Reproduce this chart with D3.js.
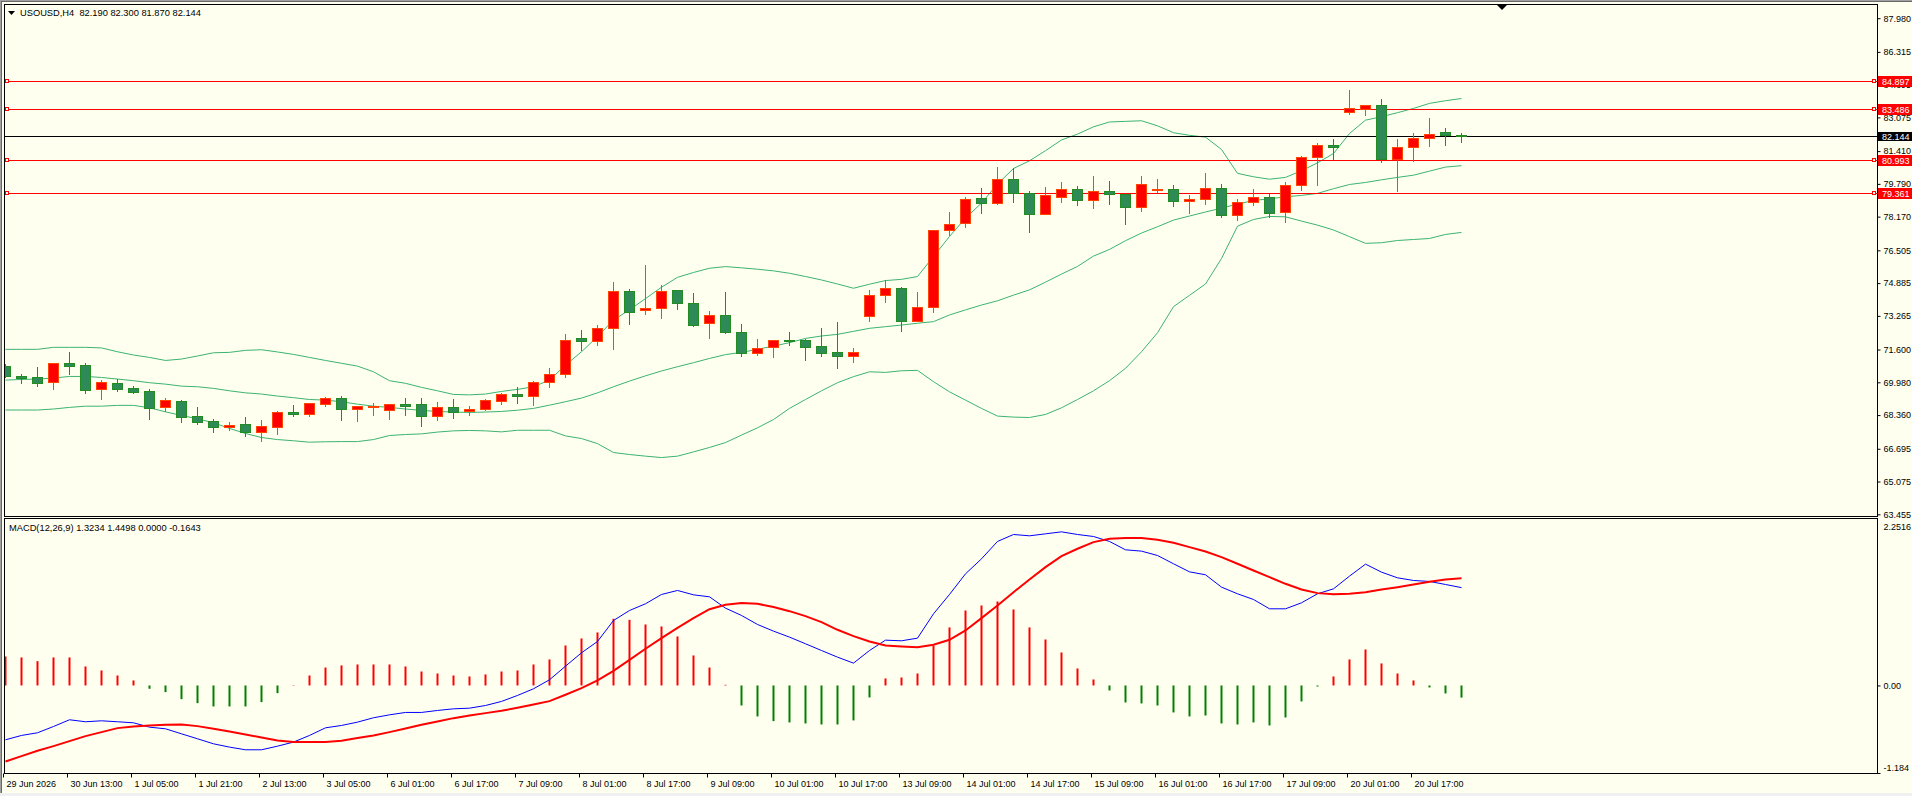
<!DOCTYPE html>
<html>
<head>
<meta charset="utf-8">
<script src="https://cdn.jsdelivr.net/npm/d3@7"></script>
<style>
  html, body { margin: 0; padding: 0; background: #f0f0f0; }
  svg { display: block; }
  text { font-family: "Liberation Sans", Arial, sans-serif; }
</style>
</head>
<body>
<div id="chart"></div>
<script>

// ---- data (USOUSD H4) ----
var opens = [70.78,70.29,70.22,69.98,70.93,70.83,69.63,69.94,69.69,69.55,
  68.77,69.05,68.31,68.06,67.78,67.91,67.53,67.78,68.51,68.42,
  68.92,69.20,68.67,68.77,68.59,68.90,68.90,68.32,68.75,68.54,
  68.66,69.08,69.38,69.28,69.98,70.37,72.15,72.00,72.65,74.48,
  73.54,73.64,74.53,73.89,72.90,73.29,72.45,71.41,71.71,72.05,
  72.07,71.77,71.46,71.26,73.28,74.28,74.63,73.03,73.69,77.50,
  77.85,79.09,78.86,80.03,79.35,78.28,79.12,79.52,78.97,79.42,
  79.27,78.63,79.47,79.52,78.92,79.02,79.57,78.23,78.87,79.12,
  78.41,79.71,81.10,81.69,83.32,83.47,83.67,81.02,81.59,82.04,
  82.33,82.19];
var highs = [70.88,70.39,70.73,70.93,71.48,70.93,70.09,70.12,69.79,69.65,
  69.20,69.10,68.75,68.16,68.01,68.26,68.11,68.56,68.85,68.94,
  69.27,69.30,68.80,68.97,68.89,69.20,69.20,69.00,69.15,68.80,
  69.15,69.46,69.73,70.04,70.68,72.37,72.57,72.80,74.94,74.58,
  75.79,74.81,74.53,74.40,73.51,74.45,72.86,72.12,72.05,72.47,
  72.14,72.67,72.96,71.67,74.55,75.03,74.68,74.45,77.50,78.39,
  79.15,79.58,80.64,80.55,79.43,79.63,79.88,79.66,80.17,79.93,
  79.32,80.17,80.03,79.71,79.23,80.32,79.78,79.02,79.53,79.27,
  79.88,81.16,81.79,82.00,84.41,83.67,84.01,81.99,82.29,83.03,
  82.53,82.30];
var lows = [70.22,69.96,69.81,69.65,70.40,69.46,69.17,69.56,69.46,68.18,
  68.57,68.03,67.93,67.53,67.63,67.35,67.10,67.43,68.33,68.33,
  68.80,68.13,68.08,68.37,68.18,68.37,67.83,68.13,68.23,68.37,
  68.61,68.89,68.97,68.87,69.76,70.26,71.58,71.84,71.64,72.88,
  73.37,73.18,73.62,72.78,72.19,72.40,71.30,71.33,71.25,71.84,
  71.10,71.30,70.70,70.99,73.03,73.97,72.53,73.03,73.47,77.24,
  77.67,78.36,78.79,78.91,77.42,78.28,78.91,78.76,78.61,78.81,
  77.82,78.46,79.40,78.71,78.36,78.81,78.13,78.02,78.77,78.13,
  77.92,79.50,79.75,81.02,83.22,83.17,80.85,79.43,80.93,81.66,
  81.72,81.87];
var closes = [70.29,70.21,69.96,70.93,70.80,69.61,69.99,69.66,69.51,68.69,
  69.10,68.28,68.03,67.78,67.89,67.53,67.81,68.51,68.42,68.94,
  69.20,68.67,68.80,68.82,68.89,68.80,68.32,68.74,68.51,68.66,
  69.10,69.38,69.28,69.98,70.39,72.05,72.00,72.65,74.48,73.47,
  73.64,74.48,73.89,72.83,73.29,72.45,71.41,71.68,72.05,72.00,
  71.74,71.44,71.26,71.46,74.28,74.63,73.03,73.69,77.50,77.80,
  79.05,78.86,80.03,79.32,78.28,79.24,79.52,78.97,79.42,79.27,
  78.63,79.76,79.53,78.92,79.02,79.57,78.23,78.87,79.12,78.36,
  79.71,81.10,81.69,81.63,83.52,83.67,81.02,81.59,82.04,82.28,
  82.19,82.144];

// Bollinger bands (20,2)
var bbUpper = [71.61,71.61,71.61,71.71,71.71,71.71,71.68,71.49,71.33,71.21,
  71.06,71.13,71.28,71.44,71.46,71.56,71.59,71.48,71.36,71.21,
  71.06,70.92,70.78,70.50,70.06,69.93,69.73,69.56,69.38,69.36,
  69.40,69.53,69.63,69.76,70.09,70.83,71.49,72.24,73.06,73.56,
  74.12,74.68,75.17,75.41,75.62,75.70,75.64,75.57,75.49,75.37,
  75.21,75.04,74.84,74.63,74.83,75.01,75.07,75.21,76.20,77.19,
  78.10,78.84,79.78,80.55,80.93,81.43,81.96,82.25,82.61,82.85,
  82.88,82.91,82.66,82.32,82.19,82.10,81.49,80.31,80.14,80.02,
  80.11,80.44,80.83,81.29,82.28,82.94,83.11,83.31,83.52,83.77,
  83.90,84.01];
var bbMiddle = [70.09,70.12,70.14,70.19,70.27,70.27,70.22,70.14,70.06,69.96,
  69.89,69.79,69.76,69.68,69.56,69.46,69.40,69.30,69.22,69.13,
  69.10,69.02,68.90,68.80,68.74,68.66,68.59,68.54,68.51,68.49,
  68.51,68.54,68.60,68.69,68.85,69.02,69.20,69.46,69.76,70.04,
  70.30,70.54,70.75,70.95,71.16,71.35,71.46,71.61,71.77,71.94,
  72.15,72.27,72.35,72.50,72.65,72.73,72.81,72.90,72.98,73.31,
  73.56,73.80,74.01,74.29,74.55,74.93,75.33,75.71,76.22,76.55,
  76.98,77.36,77.67,78.00,78.20,78.40,78.59,78.79,78.97,79.05,
  79.15,79.22,79.32,79.55,79.76,79.86,79.99,80.11,80.22,80.42,
  80.62,80.69];
var bbLower = [68.61,68.61,68.61,68.66,68.74,68.80,68.80,68.84,68.84,68.72,
  68.52,68.34,68.18,67.98,67.70,67.45,67.25,67.15,67.09,67.02,
  67.04,67.05,67.05,67.15,67.35,67.40,67.43,67.52,67.58,67.60,
  67.58,67.53,67.61,67.61,67.61,67.33,67.20,66.95,66.51,66.41,
  66.33,66.26,66.33,66.54,66.76,67.00,67.37,67.73,68.14,68.69,
  69.13,69.56,69.96,70.26,70.50,70.47,70.55,70.57,70.01,69.51,
  69.10,68.69,68.31,68.26,68.24,68.39,68.72,69.13,69.56,70.06,
  70.67,71.49,72.43,73.72,74.28,74.84,76.10,77.70,78.03,78.18,
  78.16,77.95,77.75,77.51,77.18,76.85,76.88,76.99,77.04,77.09,
  77.29,77.39];

// MACD(12,26,9)
var macdMain = [-0.735,-0.676,-0.640,-0.555,-0.464,-0.491,-0.478,-0.491,-0.505,-0.564,
  -0.586,-0.654,-0.721,-0.789,-0.834,-0.870,-0.870,-0.821,-0.766,-0.676,
  -0.573,-0.541,-0.496,-0.437,-0.397,-0.365,-0.365,-0.338,-0.316,-0.307,
  -0.271,-0.216,-0.135,-0.045,0.077,0.261,0.442,0.595,0.879,1.014,
  1.105,1.231,1.285,1.226,1.199,1.046,0.947,0.825,0.735,0.654,
  0.564,0.473,0.383,0.302,0.473,0.613,0.604,0.640,0.969,1.231,
  1.510,1.713,1.948,2.042,2.024,2.051,2.078,2.042,2.015,1.948,
  1.835,1.817,1.758,1.646,1.537,1.497,1.330,1.240,1.163,1.037,
  1.037,1.118,1.240,1.307,1.479,1.641,1.533,1.456,1.420,1.407,
  1.366,1.3234];
var macdSignal = [-1.028,-0.956,-0.884,-0.821,-0.753,-0.685,-0.631,-0.577,-0.555,-0.541,
  -0.532,-0.528,-0.550,-0.586,-0.622,-0.663,-0.703,-0.744,-0.766,-0.766,
  -0.766,-0.748,-0.712,-0.676,-0.631,-0.582,-0.532,-0.487,-0.442,-0.406,
  -0.374,-0.343,-0.302,-0.257,-0.212,-0.126,-0.036,0.068,0.198,0.347,
  0.496,0.640,0.780,0.911,1.032,1.091,1.114,1.105,1.060,1.005,
  0.938,0.857,0.753,0.667,0.595,0.541,0.528,0.518,0.550,0.618,
  0.744,0.911,1.082,1.262,1.434,1.601,1.749,1.849,1.939,1.984,
  1.993,1.993,1.970,1.930,1.871,1.812,1.736,1.646,1.555,1.465,
  1.375,1.298,1.249,1.235,1.240,1.262,1.298,1.330,1.366,1.402,
  1.434,1.4498];
var macdHist = [0.392,0.379,0.329,0.379,0.379,0.257,0.203,0.135,0.068,-0.045,
  -0.090,-0.185,-0.239,-0.284,-0.284,-0.284,-0.225,-0.104,0.005,0.135,
  0.243,0.271,0.284,0.284,0.284,0.257,0.189,0.162,0.135,0.122,
  0.149,0.189,0.203,0.284,0.352,0.541,0.636,0.717,0.902,0.888,
  0.825,0.798,0.663,0.406,0.243,0.009,-0.271,-0.419,-0.482,-0.500,
  -0.514,-0.528,-0.528,-0.473,-0.162,0.095,0.108,0.162,0.541,0.785,
  1.014,1.082,1.136,1.028,0.785,0.622,0.446,0.230,0.081,-0.068,
  -0.230,-0.243,-0.271,-0.365,-0.419,-0.406,-0.514,-0.528,-0.500,-0.541,
  -0.433,-0.216,-0.014,0.122,0.352,0.487,0.298,0.162,0.068,-0.027,
  -0.108,-0.1643];

// time axis: one label every 4 bars
var timeLabels = ["29 Jun 2026","30 Jun 13:00","1 Jul 05:00","1 Jul 21:00","2 Jul 13:00",
  "3 Jul 05:00","6 Jul 01:00","6 Jul 17:00","7 Jul 09:00","8 Jul 01:00","8 Jul 17:00",
  "9 Jul 09:00","10 Jul 01:00","10 Jul 17:00","13 Jul 09:00","14 Jul 01:00","14 Jul 17:00",
  "15 Jul 09:00","16 Jul 01:00","16 Jul 17:00","17 Jul 09:00","20 Jul 01:00","20 Jul 17:00"];
var timeLabelBars = timeLabels.map(function(d, i){ return i * 4; });

var priceTicks = [87.980,86.315,84.695,83.075,81.410,79.790,78.170,76.505,74.885,73.265,71.600,69.980,68.360,66.695,65.075,63.455];
var priceLevels = [84.897, 83.486, 80.993, 79.361];
var lastPrice = 82.144;
var macdTicks = [2.2516, 0, -1.184];
var macdTickLabels = ["2.2516", "0.00", "-1.184"];


// ---- layout ----
var width = 1912, height = 796;
var left = 4, right = 1877;
var mainTop = 4, mainBottom = 516;
var macdTop = 518, macdBottom = 773;

var bg = "#fffff0";
var bullFill = "#ff0000", bullLine = "#ff4500";
var bearFill = "#2e8b57", bearLine = "#228b22";
var bandColor = "#3cb371";

var svg = d3.select("#chart").append("svg")
	.attr("width", width)
	.attr("height", height);

// window background + chrome
svg.append("rect").attr("x", 0).attr("y", 0).attr("width", width).attr("height", height).attr("fill", "#f0f0f0");
svg.append("rect").attr("x", 2).attr("y", 2).attr("width", width - 2).attr("height", 791).attr("fill", bg);
svg.append("line").attr("x1", 0.5).attr("y1", 0).attr("x2", 0.5).attr("y2", 793).attr("stroke", "#a0a0a0");
svg.append("line").attr("x1", 1.5).attr("y1", 1).attr("x2", 1.5).attr("y2", 793).attr("stroke", "#696969");
svg.append("line").attr("x1", 0).attr("y1", 0.5).attr("x2", width).attr("y2", 0.5).attr("stroke", "#a0a0a0");
svg.append("line").attr("x1", 1).attr("y1", 1.5).attr("x2", width).attr("y2", 1.5).attr("stroke", "#696969");

// scales
var x = d3.scaleLinear().domain([0, opens.length - 1]).range([5.3, 5.3 + 16 * (opens.length - 1)]);
var y = d3.scaleLinear().domain([63.455, 87.98]).range([514.3, 18.2]);
var ym = d3.scaleLinear().domain([-1.184, 2.2516]).range([macdBottom, 519]);

function cx(i) { return Math.round(x(i)); }
function crisp(v) { return Math.round(v) + 0.5; }

// clip paths
var defs = svg.append("defs");
defs.append("clipPath").attr("id", "clipMain").append("rect")
	.attr("x", left + 1).attr("y", mainTop + 1).attr("width", right - left - 1).attr("height", mainBottom - mainTop - 1);
defs.append("clipPath").attr("id", "clipMacd").append("rect")
	.attr("x", left + 1).attr("y", macdTop + 1).attr("width", right - left - 1).attr("height", macdBottom - macdTop - 1);

var main = svg.append("g").attr("clip-path", "url(#clipMain)");
var macd = svg.append("g").attr("clip-path", "url(#clipMacd)");

// bollinger bands
[bbUpper, bbMiddle, bbLower].forEach(function(band){
	main.append("path")
		.datum(band)
		.attr("fill", "none")
		.attr("stroke", bandColor)
		.attr("stroke-width", 1)
		.attr("d", d3.line().x(function(d, i){ return cx(i) + 0.5; }).y(function(d){ return y(d); }));
});

// horizontal price levels
priceLevels.forEach(function(p){
	main.append("line")
		.attr("x1", left).attr("x2", right)
		.attr("y1", crisp(y(p))).attr("y2", crisp(y(p)))
		.attr("stroke", "#ff0000");
});
main.append("line")
	.attr("x1", left).attr("x2", right)
	.attr("y1", crisp(y(lastPrice))).attr("y2", crisp(y(lastPrice)))
	.attr("stroke", "#000000");

// candles
var idx = d3.range(opens.length);
var candles = main.selectAll("g.candle")
	.data(idx)
	.enter().append("g")
	.attr("class", "candle");

candles.append("line")
	.attr("x1", function(i){ return cx(i) + 0.5; })
	.attr("x2", function(i){ return cx(i) + 0.5; })
	.attr("y1", function(i){ return Math.round(y(highs[i])); })
	.attr("y2", function(i){ return Math.round(y(lows[i])) + 1; })
	.attr("stroke", function(i){ return closes[i] >= opens[i] ? bullLine : bearLine; });

candles.append("rect")
	.attr("x", function(i){ return cx(i) - 4.5; })
	.attr("y", function(i){ return Math.round(y(Math.max(opens[i], closes[i]))) + 0.5; })
	.attr("width", 10)
	.attr("height", function(i){
		return Math.max(1, Math.round(y(Math.min(opens[i], closes[i]))) - Math.round(y(Math.max(opens[i], closes[i]))));
	})
	.attr("fill", function(i){ return closes[i] >= opens[i] ? bullFill : bearFill; })
	.attr("stroke", function(i){ return closes[i] >= opens[i] ? bullLine : bearLine; });

// MACD histogram
macd.selectAll("line.hist")
	.data(macdHist)
	.enter().append("line")
	.attr("class", "hist")
	.attr("x1", function(d, i){ return cx(i) + 0.5; })
	.attr("x2", function(d, i){ return cx(i) + 0.5; })
	.attr("y1", ym(0))
	.attr("y2", function(d){ return ym(d); })
	.attr("stroke", function(d){ return d >= 0 ? "#ff0000" : "#008000"; })
	.attr("stroke-width", 2);

macd.append("path")
	.datum(macdMain)
	.attr("fill", "none")
	.attr("stroke", "#0000ff")
	.attr("stroke-width", 1)
	.attr("d", d3.line().x(function(d, i){ return cx(i) + 0.5; }).y(function(d){ return ym(d); }));

macd.append("path")
	.datum(macdSignal)
	.attr("fill", "none")
	.attr("stroke", "#ff0000")
	.attr("stroke-width", 2)
	.attr("d", d3.line().x(function(d, i){ return cx(i) + 0.5; }).y(function(d){ return ym(d); }));

// panel frames
svg.append("rect").attr("x", left + 0.5).attr("y", mainTop + 0.5)
	.attr("width", right - left).attr("height", mainBottom - mainTop)
	.attr("fill", "none").attr("stroke", "#000");
svg.append("rect").attr("x", left + 0.5).attr("y", macdTop + 0.5)
	.attr("width", right - left).attr("height", macdBottom - macdTop)
	.attr("fill", "none").attr("stroke", "#000");

// price axis
var yAxis = svg.append("g")
	.attr("transform", "translate(" + (right + 0.5) + ",0)")
	.call(d3.axisRight(y).tickValues(priceTicks).tickSize(3).tickPadding(3).tickFormat(d3.format(".3f")));
yAxis.select(".domain").remove();
yAxis.selectAll("text").attr("font-size", "9px").attr("fill", "#000").attr("font-family", null);
yAxis.selectAll("line").attr("stroke", "#000");

// MACD axis
var mAxis = svg.append("g")
	.attr("transform", "translate(" + (right + 0.5) + ",0)")
	.call(d3.axisRight(ym).tickValues(macdTicks).tickSize(3).tickPadding(3)
		.tickFormat(function(d, i){ return macdTickLabels[i]; }));
mAxis.select(".domain").remove();
mAxis.selectAll("text").attr("font-size", "9px").attr("fill", "#000").attr("font-family", null)
	.attr("dy", function(d){ return d === macdTicks[0] ? "1.15em" : (d === macdTicks[2] ? "-0.3em" : "0.32em"); });
mAxis.selectAll(".tick").filter(function(d){ return d === macdTicks[0]; }).select("line").remove();
mAxis.selectAll("line").attr("stroke", "#000");

// time axis
var xAxis = svg.append("g")
	.attr("transform", "translate(0," + (macdBottom + 0.5) + ")")
	.call(d3.axisBottom(x).tickValues(timeLabelBars).tickSize(4).tickPadding(3)
		.tickFormat(function(d, i){ return timeLabels[i]; }));
xAxis.select(".domain").remove();
xAxis.selectAll(".tick").attr("transform", function(d){ return "translate(" + (cx(d) - 1.5) + ",0)"; });
xAxis.selectAll("text").attr("font-size", "9px").attr("fill", "#000").attr("font-family", null)
	.attr("text-anchor", "start").attr("x", 3);
xAxis.selectAll("line").attr("stroke", "#000");

// price level markers and labels
var levelG = svg.append("g");
priceLevels.forEach(function(p){
	var yy = Math.round(y(p));
	levelG.append("rect").attr("x", 5.5).attr("y", yy - 1.5).attr("width", 3).attr("height", 3)
		.attr("fill", bg).attr("stroke", "#ff0000");
	levelG.append("rect").attr("x", 1872.5).attr("y", yy - 1.5).attr("width", 3).attr("height", 3)
		.attr("fill", bg).attr("stroke", "#ff0000");
	levelG.append("rect").attr("x", right + 1).attr("y", yy - 5).attr("width", width - right - 1).attr("height", 11)
		.attr("fill", "#ff0000");
	levelG.append("text").attr("x", right + 5).attr("y", yy + 0.5).attr("dy", "0.35em")
		.attr("font-size", "9px").attr("fill", "#fff").text(d3.format(".3f")(p));
});
var ly = Math.round(y(lastPrice));
levelG.append("rect").attr("x", right + 1).attr("y", ly - 4).attr("width", width - right - 1).attr("height", 9)
	.attr("fill", "#000");
levelG.append("text").attr("x", right + 5).attr("y", ly + 0.5).attr("dy", "0.35em")
	.attr("font-size", "9px").attr("fill", "#fff").text(d3.format(".3f")(lastPrice));

// titles
svg.append("path").attr("d", "M8,11L15,11L11.5,15Z").attr("fill", "#000");
svg.append("text").attr("x", 20).attr("y", 16).attr("font-size", "9.3px").attr("fill", "#000")
	.attr("xml:space", "preserve")
	.text("USOUSD,H4  82.190 82.300 81.870 82.144");
svg.append("text").attr("x", 9).attr("y", 531).attr("font-size", "9.3px").attr("fill", "#000")
	.text("MACD(12,26,9) 1.3234 1.4498 0.0000 -0.1643");

// chart shift marker
svg.append("path").attr("d", "M1497,5L1507,5L1502,10Z").attr("fill", "#000");

</script>
</body>
</html>
